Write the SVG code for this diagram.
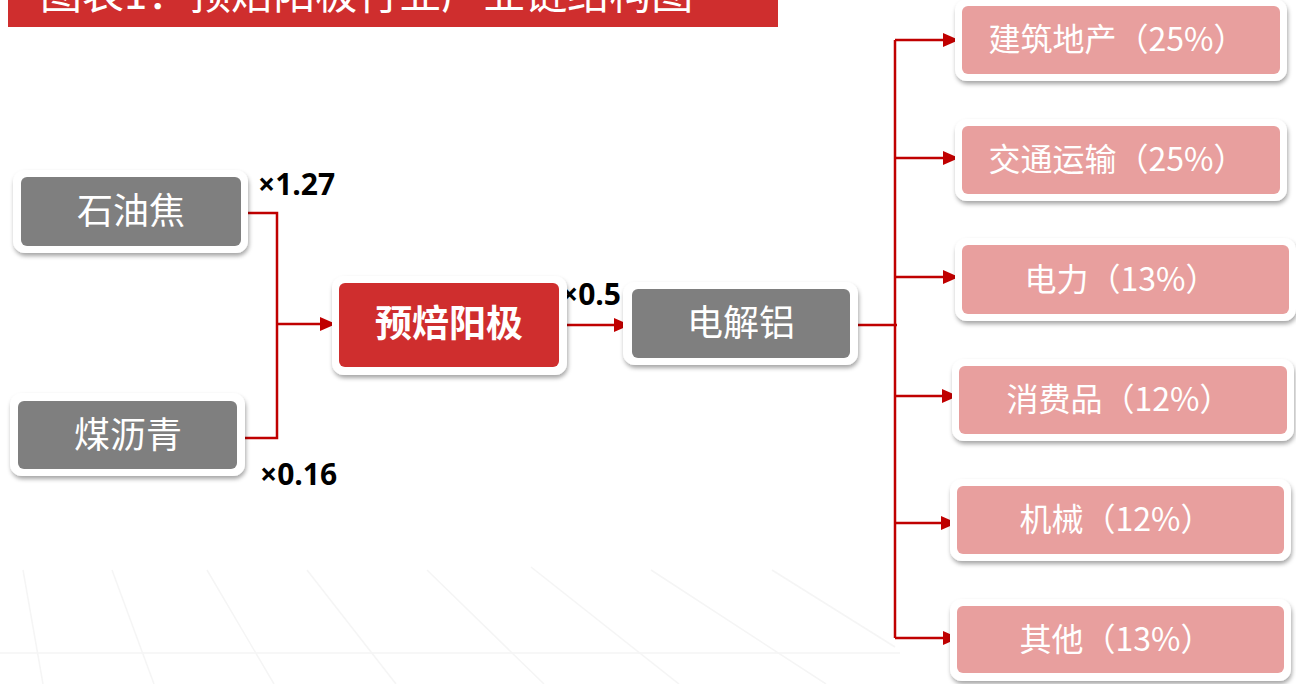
<svg xmlns="http://www.w3.org/2000/svg" width="1296" height="684" viewBox="0 0 1296 684">
  <style>
    .cjk { font-family: "Noto Sans CJK SC", "Noto Sans", sans-serif; }
    .lbl { font-family: "Noto Sans CJK SC", sans-serif; fill: #ffffff; text-anchor: middle; }
    .big { font-size: 36px; }
    .mid { font-size: 32px; }
    .mult { font-family: "Open Sans", "Liberation Sans", sans-serif; font-weight: bold; font-size: 30px; fill: #000000; }
    .frame { fill: #ffffff; filter: url(#sh); }
    .gray { fill: #7f7f7f; }
    .red { fill: #cf2e2e; }
    .pink { fill: #e89f9e; }
    .conn { stroke: #c00000; stroke-width: 2.5; fill: none; }
    .bg { stroke: #f5f5f5; stroke-width: 1.5; fill: none; }
  </style>
  <defs>
    <filter id="sh" x="-10%" y="-20%" width="120%" height="150%">
      <feDropShadow dx="1" dy="3" stdDeviation="2" flood-color="#000" flood-opacity="0.35"/>
    </filter>
    <marker id="ah" markerWidth="16" markerHeight="14" refX="15" refY="7" orient="auto" markerUnits="userSpaceOnUse">
      <path d="M0,0 L16,7 L0,14 z" fill="#c00000"/>
    </marker>
  </defs>
  <rect width="1296" height="684" fill="#ffffff"/>

  <g id="background">
    <line class="bg" x1="0" y1="653" x2="900" y2="653"/>
    <line class="bg" x1="23" y1="570" x2="43" y2="684"/>
    <line class="bg" x1="112" y1="570" x2="154" y2="684"/>
    <line class="bg" x1="207" y1="570" x2="274" y2="684"/>
    <line class="bg" x1="307" y1="570" x2="396" y2="684"/>
    <line class="bg" x1="427" y1="570" x2="544" y2="684"/>
    <line class="bg" x1="531" y1="567" x2="679" y2="684"/>
    <line class="bg" x1="651" y1="570" x2="826" y2="684"/>
    <line class="bg" x1="772" y1="570" x2="895" y2="647"/>
  </g>

  <g id="title">
    <rect x="8" y="0" width="770" height="27" fill="#cf2e2e"/>
    <text x="40" y="9" class="cjk" font-size="42" fill="#ffffff">图表1：预焙阳极行业产业链结构图</text>
  </g>

  <g id="connectors">
    <polyline class="conn" points="241,213 277,213 277,438 237,438"/>
    <line class="conn" x1="277" y1="324" x2="335" y2="324" marker-end="url(#ah)"/>
    <line class="conn" x1="560" y1="325" x2="629" y2="325" marker-end="url(#ah)"/>
    <line class="conn" x1="852" y1="325" x2="897" y2="325"/>
    <line class="conn" x1="895" y1="40" x2="895" y2="638"/>
    <line class="conn" x1="895" y1="40" x2="958" y2="40" marker-end="url(#ah)"/>
    <line class="conn" x1="895" y1="158" x2="958" y2="158" marker-end="url(#ah)"/>
    <line class="conn" x1="895" y1="277" x2="958" y2="277" marker-end="url(#ah)"/>
    <line class="conn" x1="895" y1="396" x2="957" y2="396" marker-end="url(#ah)"/>
    <line class="conn" x1="895" y1="523" x2="956" y2="523" marker-end="url(#ah)"/>
    <line class="conn" x1="895" y1="638" x2="958" y2="638" marker-end="url(#ah)"/>
  </g>

  <g id="labels">
    <text class="mult" x="258" y="195">×1.27</text>
    <text class="mult" x="260" y="485">×0.16</text>
    <text class="mult" x="561" y="305">×0.5</text>
  </g>

  <g id="n-shiyoujiao">
    <rect class="frame" x="13" y="170" width="235" height="83" rx="12"/>
    <rect class="gray" x="21" y="177" width="220" height="69" rx="6"/>
    <text class="lbl big" x="131" y="224">石油焦</text>
  </g>

  <g id="n-meiliqing">
    <rect class="frame" x="10" y="393" width="235" height="83" rx="12"/>
    <rect class="gray" x="18" y="401" width="219" height="68" rx="6"/>
    <text class="lbl big" x="128" y="448">煤沥青</text>
  </g>

  <g id="n-anode">
    <rect class="frame" x="332" y="276" width="235" height="99" rx="12"/>
    <rect class="red" x="339" y="283" width="220" height="84" rx="6"/>
    <text class="lbl" x="449" y="337" font-size="37" font-weight="bold">预焙阳极</text>
  </g>

  <g id="n-aluminium">
    <rect class="frame" x="623" y="282" width="235" height="83" rx="12"/>
    <rect class="gray" x="632" y="289" width="218" height="69" rx="6"/>
    <text class="lbl big" x="741" y="336">电解铝</text>
  </g>

  <g id="n-construction">
    <rect class="frame" x="955" y="-1" width="332" height="82" rx="12"/>
    <rect class="pink" x="962" y="6" width="318" height="68" rx="6"/>
    <text class="lbl mid" x="1117" y="51">建筑地产（25%）</text>
  </g>

  <g id="n-transport">
    <rect class="frame" x="955" y="119" width="332" height="82" rx="12"/>
    <rect class="pink" x="962" y="126" width="318" height="68" rx="6"/>
    <text class="lbl mid" x="1117" y="171">交通运输（25%）</text>
  </g>

  <g id="n-power">
    <rect class="frame" x="955" y="238" width="341" height="83" rx="12"/>
    <rect class="pink" x="962" y="245" width="327" height="69" rx="6"/>
    <text class="lbl mid" x="1121" y="291">电力（13%）</text>
  </g>

  <g id="n-consumer">
    <rect class="frame" x="952" y="359" width="342" height="82" rx="12"/>
    <rect class="pink" x="959" y="366" width="328" height="68" rx="6"/>
    <text class="lbl mid" x="1119" y="411">消费品（12%）</text>
  </g>

  <g id="n-machinery">
    <rect class="frame" x="950" y="479" width="341" height="82" rx="12"/>
    <rect class="pink" x="957" y="486" width="327" height="68" rx="6"/>
    <text class="lbl mid" x="1116" y="531">机械（12%）</text>
  </g>

  <g id="n-other">
    <rect class="frame" x="950" y="599" width="341" height="82" rx="12"/>
    <rect class="pink" x="957" y="606" width="327" height="67" rx="6"/>
    <text class="lbl mid" x="1116" y="651">其他（13%）</text>
  </g>
</svg>
